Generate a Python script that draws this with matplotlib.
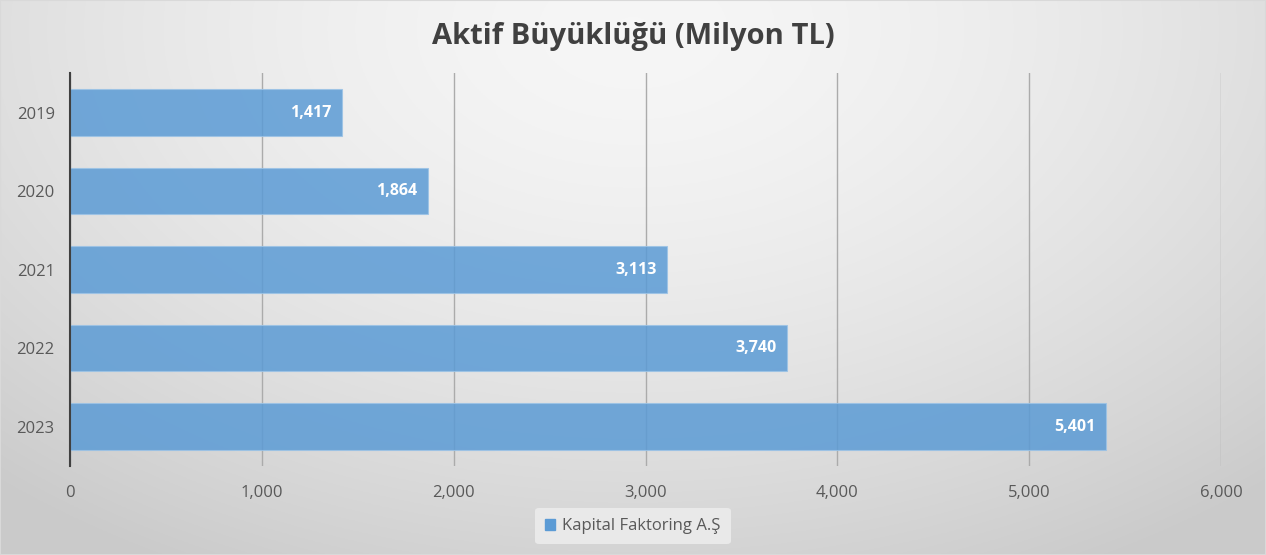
import numpy as np
import matplotlib
matplotlib.use("Agg")
import matplotlib.pyplot as plt

years = ["2019", "2020", "2021", "2022", "2023"]
values = [1417, 1864, 3113, 3740, 5401]
series_name = "Kapital Faktoring A.Ş"
title = "Aktif Büyüklüğü (Milyon TL)"

plt.rcParams["font.family"] = ["Open Sans", "DejaVu Sans"]

fig = plt.figure(figsize=(12.66, 5.55), dpi=100)

# gradient background: lighter at the top centre, darker to the edges
bg = fig.add_axes([0, 0, 1, 1], zorder=-10)
yy, xx = np.mgrid[0:1:300j, 0:1:600j]
r = np.sqrt(((xx - 0.5) / 0.75) ** 2 + ((yy - 0.05) / 1.1) ** 2)
shade = 0.965 - 0.17 * np.clip(r, 0, 1) ** 1.6
bg.imshow(np.dstack([shade] * 3), aspect="auto", extent=[0, 1, 1, 0])
bg.set_axis_off()
fig.patches.append(plt.Rectangle((0, 0), 1, 1, transform=fig.transFigure,
                                 fill=False, edgecolor="#d9d9d9", lw=1.5))

ax = fig.add_axes([0.0553, 0.1608, 0.9092, 0.7072])
ax.patch.set_alpha(0)

pos = np.arange(len(years))
bars = ax.barh(pos, values, height=0.59, color="#5b9bd5", alpha=0.85,
               edgecolor="#9cc3e6", linewidth=0.8, zorder=3)
for b, v in zip(bars, values):
    ax.text(v - 55, b.get_y() + b.get_height() / 2, f"{v:,}", ha="right",
            va="center", color="white", fontsize=11.5, fontweight="bold", zorder=4)

ax.set_ylim(len(years) - 0.5, -0.5)
ax.set_yticks(pos)
ax.set_yticklabels(years)
ax.set_xlim(0, 6000)
ax.set_xticks(range(0, 6001, 1000))
ax.set_xticklabels([f"{t:,}" for t in range(0, 6001, 1000)])
ax.tick_params(axis="both", length=0, labelsize=12, colors="#595959")
ax.tick_params(axis="x", pad=14)
ax.tick_params(axis="y", pad=11)
ax.grid(axis="x", color="#ababab", lw=1, zorder=1)
for s in ["top", "right", "bottom"]:
    ax.spines[s].set_visible(False)
ax.spines["left"].set_color("#404040")
ax.spines["left"].set_linewidth(1.5)
ax.spines["left"].set_zorder(5)

fig.text(0.5, 0.935, title, ha="center", va="center", fontsize=21,
         fontweight="bold", color="#404040")

leg = fig.legend([plt.Rectangle((0, 0), 1, 1, color="#5b9bd5")], [series_name],
                 loc="center", bbox_to_anchor=(0.5, 0.052), frameon=True,
                 fontsize=12, handlelength=0.6, handleheight=0.6,
                 handletextpad=0.4, borderpad=0.6, borderaxespad=0)
leg.get_frame().set_facecolor("#e9e9e9")
leg.get_frame().set_edgecolor("none")
leg.get_frame().set_alpha(1)
for t in leg.get_texts():
    t.set_color("#595959")

fig.savefig("out.png", dpi=100)
plt.close()
